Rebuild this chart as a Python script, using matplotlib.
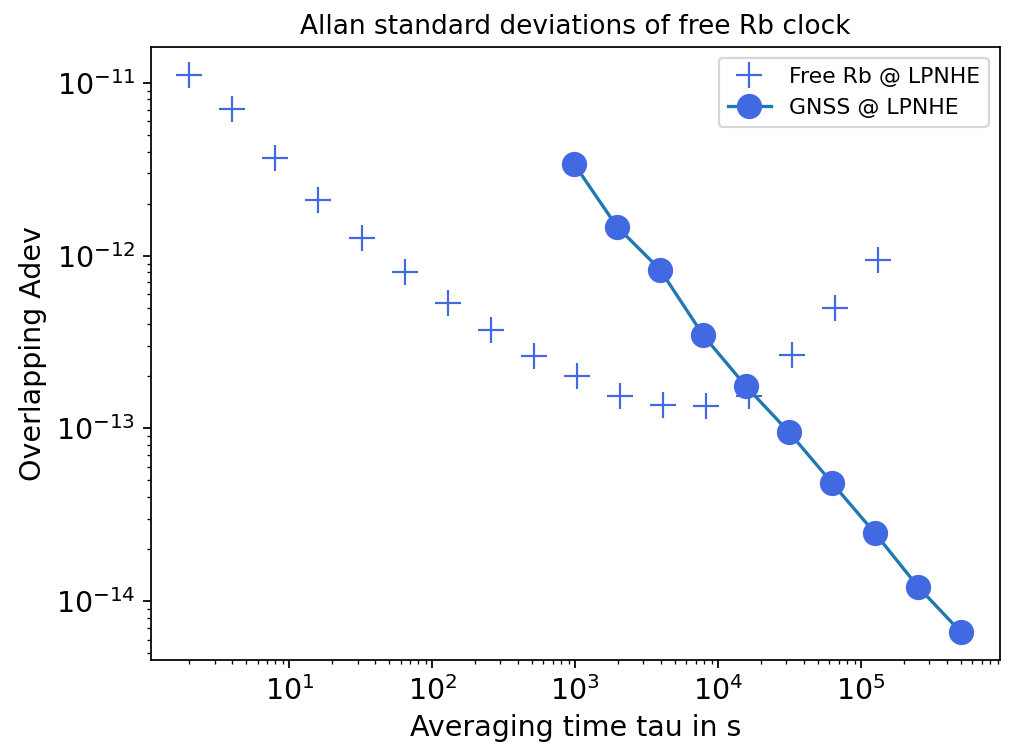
import matplotlib
matplotlib.use('Agg')
import matplotlib.pyplot as plt

# Allan deviation data
tau_rb = [2, 4, 8, 16, 32, 64, 128, 256, 512, 1024, 2048, 4096, 8192,
          16384, 32768, 65536, 131072]
adev_rb = [1.11e-11, 7.05e-12, 3.69e-12, 2.1e-12, 1.26e-12, 8.05e-13,
           5.3e-13, 3.69e-13, 2.63e-13, 2.0e-13, 1.55e-13, 1.37e-13,
           1.34e-13, 1.55e-13, 2.66e-13, 5.0e-13, 9.4e-13]

tau_gnss = [980, 1960, 3920, 7840, 15680, 31360, 62720, 125440, 250880, 501760]
adev_gnss = [3.4e-12, 1.47e-12, 8.3e-13, 3.47e-13, 1.75e-13, 9.5e-14,
             4.83e-14, 2.47e-14, 1.21e-14, 6.6e-15]

fig, ax = plt.subplots(figsize=(6.405, 4.728), dpi=158)

ax.loglog(tau_rb, adev_rb, '+', color='royalblue', markersize=12,
          label='Free Rb @ LPNHE')
ax.loglog(tau_gnss, adev_gnss, '-o', color='#1f77b4', markerfacecolor='royalblue',
          markeredgecolor='royalblue', markersize=10.5, label='GNSS @ LPNHE')

ax.set_title('Allan standard deviations of free Rb clock', fontsize=12)
ax.set_xlabel('Averaging time tau in s', fontsize=13)
ax.set_ylabel('Overlapping Adev', fontsize=13)
ax.tick_params(axis='both', which='major', labelsize=13)
ax.legend(loc='upper right', fontsize=10)

# axes box placed like the reference
fig.subplots_adjust(left=0.149, right=0.988, top=0.937, bottom=0.116)
plt.savefig('out.png', dpi=158)
